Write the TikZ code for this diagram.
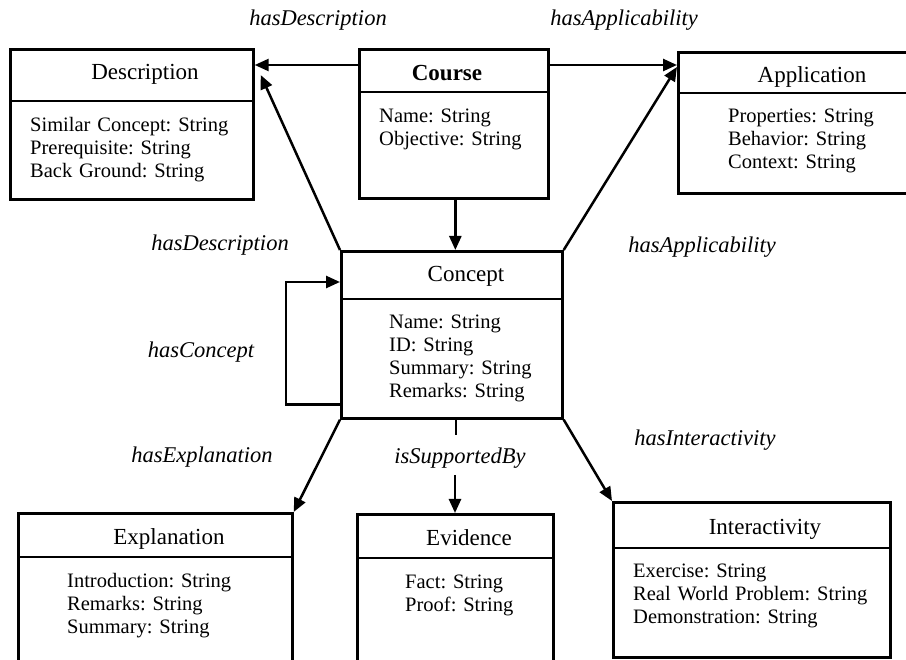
\documentclass[tikz,border=0pt]{standalone}
\usepackage{fontspec}
\setmainfont{Liberation Serif}
\usetikzlibrary{arrows.meta}
\frenchspacing
\begin{document}
\begin{tikzpicture}[x=1pt,y=-1pt,
  classbox/.style={draw, line width=2.7pt, inner sep=0pt, anchor=north west},
  divider/.style={line width=2.7pt},
  title/.style={font=\fontsize{23}{26}\selectfont, anchor=base, inner sep=0pt},
  attrs/.style={font=\fontsize{20.5}{23}\selectfont\frenchspacing, align=left, text width=260pt, anchor=base west, inner sep=0pt},
  rel/.style={font=\fontsize{22.5}{24}\selectfont\itshape, inner sep=0pt},
  conn/.style={line width=2.5pt},
  arr/.style={conn, -{Triangle[length=14pt,width=12pt]}},
]
\clip (0,0) rectangle (906,660);
\useasboundingbox (0,0) rectangle (906,660);

% class boxes
\node[classbox, minimum width=243pt, minimum height=150pt] (desc) at (9,48) {};
\node[classbox, minimum width=189pt, minimum height=149pt] (course) at (358,48) {};
\node[classbox, minimum width=240pt, minimum height=141pt] (app) at (677,51) {};
\node[classbox, minimum width=221pt, minimum height=167pt] (concept) at (340,250) {};
\node[classbox, minimum width=274pt, minimum height=170pt] (expl) at (17,512) {};
\node[classbox, minimum width=196pt, minimum height=170pt] (evid) at (356,513) {};
\node[classbox, minimum width=277pt, minimum height=155pt] (inter) at (612,501) {};

% dividers
\draw[divider] (9,101) -- (252,101);
\draw[divider] (358,92) -- (547,92);
\draw[divider] (677,93) -- (917,93);
\draw[divider] (340,299) -- (561,299);
\draw[divider] (17,557) -- (291,557);
\draw[divider] (356,558) -- (552,558);
\draw[divider] (612,548) -- (889,548);

% titles
\node[title] (tdesc) at (145,80) {Description};
\node[title] (tcourse) at (447,81) {\bfseries Course};
\node[title] (tapp) at (812,83) {Application};
\node[title] (tconcept) at (466,282) {Concept};
\node[title] (texpl) at (169,544) {Explanation};
\node[title] (tevid) at (469,545) {Evidence};
\node[title] (tinter) at (765,534) {Interactivity};

% attributes
\node[attrs] (adesc) at (30,131.5) {Similar Concept: String\\Prerequisite: String\\Back Ground: String};
\node[attrs] (acourse) at (379,123) {Name: String\\Objective: String};
\node[attrs] (aapp) at (728,123) {Properties: String\\Behavior: String\\Context: String};
\node[attrs] (aconcept) at (389,329) {Name: String\\ID: String\\Summary: String\\Remarks: String};
\node[attrs] (aexpl) at (67,587) {Introduction: String\\Remarks: String\\Summary: String};
\node[attrs] (aevid) at (405,588) {Fact: String\\Proof: String};
\node[attrs] (ainter) at (633,577) {Exercise: String\\Real World Problem: String\\Demonstration: String};

% connectors
\draw[arr] ([yshift=-17pt]course.north west) -- ([yshift=-17pt]desc.north east);
\draw[arr] ([yshift=-17pt]course.north east) -- ([yshift=-14pt]app.north west);
\draw[arr] (concept.north west) -- ([shift={(6pt,-27pt)}]desc.north east);
\draw[arr] (concept.north east) -- ([yshift=-16pt]app.north west);
\draw[arr] ([xshift=1.5pt]course.south) -- ([xshift=1.5pt]course.south |- concept.north);
\draw[arr] ([yshift=15pt]concept.south west) -- ++(-54,0) |- ([yshift=-32pt]concept.north west);
\draw[arr] (concept.south west) -- (expl.north east);
\draw[conn] ([xshift=4pt]concept.south) -- ++(0,15);
\coordinate (sbtop) at (455,475);
\draw[arr] (sbtop) -- (sbtop |- evid.north);
\draw[arr] (concept.south east) -- (inter.north west);

% relation labels
\node[rel] (l1) at (318,20) {hasDescription};
\node[rel] (l2) at (624,20) {hasApplicability};
\node[rel] (l3) at (220,245) {hasDescription};
\node[rel] (l4) at (702,247) {hasApplicability};
\node[rel] (l5) at (201,352) {hasConcept};
\node[rel] (l6) at (202,457) {hasExplanation};
\node[rel] (l7) at (460,458) {isSupportedBy};
\node[rel] (l8) at (705,440) {hasInteractivity};
\end{tikzpicture}
\end{document}
